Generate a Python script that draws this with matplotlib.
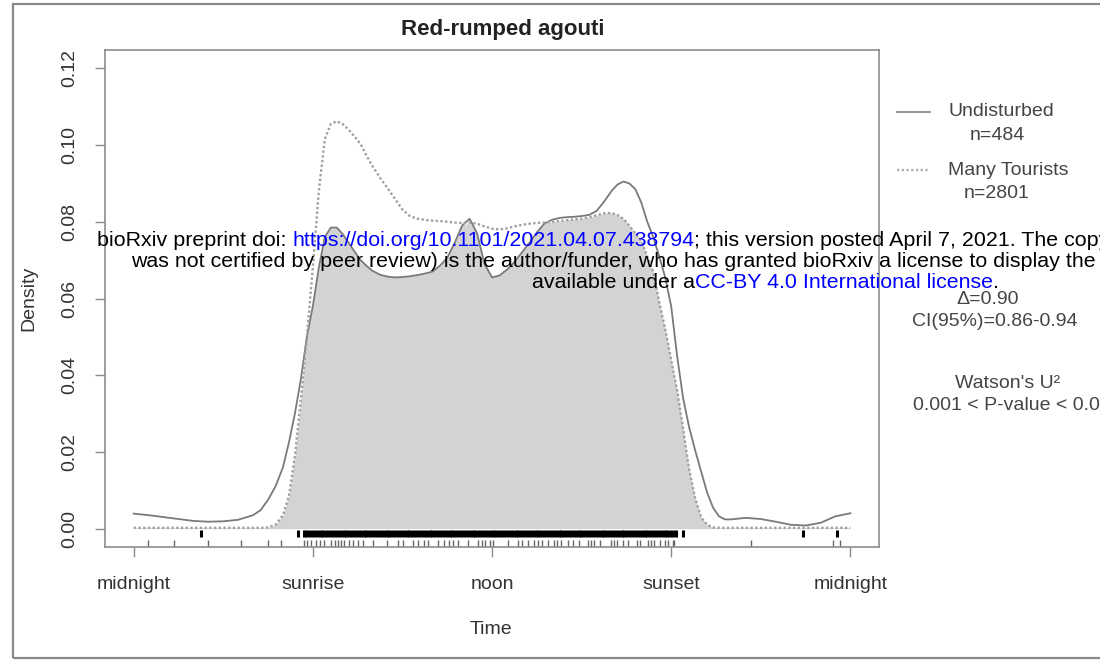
import numpy as np
import matplotlib
matplotlib.use("Agg")
import matplotlib.pyplot as plt
from matplotlib.lines import Line2D
from matplotlib.patches import Rectangle

plt.rcParams['font.family'] = ['Liberation Sans', 'DejaVu Sans']

# activity densities, time of day in hours
hours = [0, 0.5, 1, 1.5, 2, 2.5, 3, 3.5, 4, 4.25, 4.5, 4.75,
         5.0, 5.2, 5.4, 5.6, 5.8, 6.0, 6.2, 6.4, 6.6, 6.8,
         7.0, 7.2, 7.4, 7.6, 7.8, 8.0, 8.25, 8.5, 8.75, 9.0,
         9.25, 9.5, 9.75, 10.0, 10.25, 10.5, 10.75, 11.0, 11.25, 11.5,
         11.75, 12.0, 12.25, 12.5, 12.75, 13.0, 13.25, 13.5, 13.75, 14.0,
         14.25, 14.5, 14.75, 15.0, 15.25, 15.5, 15.75, 16.0, 16.2, 16.4,
         16.6, 16.8, 17.0, 17.2, 17.4, 17.6, 17.8, 18.0, 18.2, 18.4,
         18.6, 18.8, 19.0, 19.2, 19.4, 19.6, 19.8, 20.0, 20.5, 21.0,
         21.5, 22.0, 22.5, 23.0, 23.5, 24.0]

undisturbed = [0.0039, 0.0035, 0.0030, 0.0025, 0.0020, 0.0018, 0.0019, 0.0023, 0.0035, 0.0048, 0.0075, 0.0110,
               0.0160, 0.0225, 0.0300, 0.0390, 0.0500, 0.0580, 0.0680, 0.0760, 0.0785, 0.0785,
               0.0768, 0.0745, 0.0722, 0.0700, 0.0685, 0.0672, 0.0662, 0.0657, 0.0655, 0.0656,
               0.0658, 0.0661, 0.0665, 0.0670, 0.0685, 0.0706, 0.0745, 0.0790, 0.0808, 0.0770,
               0.0690, 0.0655, 0.0660, 0.0675, 0.0695, 0.0720, 0.0745, 0.0772, 0.0795, 0.0805,
               0.0810, 0.0812, 0.0813, 0.0815, 0.0818, 0.0828, 0.0852, 0.0880, 0.0897, 0.0905,
               0.0900, 0.0885, 0.0850, 0.0800, 0.0760, 0.0710, 0.0655, 0.0580, 0.0450, 0.0340,
               0.0265, 0.0205, 0.0150, 0.0095, 0.0055, 0.0032, 0.0024, 0.0024, 0.0028, 0.0025,
               0.0018, 0.0010, 0.0008, 0.0015, 0.0032, 0.0040]

tourists = [0.0002, 0.0002, 0.0002, 0.0002, 0.0002, 0.0002, 0.0002, 0.0002, 0.0002, 0.0002, 0.0003, 0.0010,
            0.0035, 0.0085, 0.0190, 0.0340, 0.0500, 0.0680, 0.0880, 0.1015, 0.1055, 0.1062,
            0.1055, 0.1040, 0.1022, 0.1003, 0.0972, 0.0945, 0.0915, 0.0888, 0.0860, 0.0832,
            0.0815, 0.0808, 0.0805, 0.0803, 0.0802, 0.0800, 0.0798, 0.0797, 0.0798, 0.0795,
            0.0788, 0.0782, 0.0780, 0.0783, 0.0788, 0.0792, 0.0795, 0.0797, 0.0798, 0.0800,
            0.0802, 0.0804, 0.0806, 0.0808, 0.0812, 0.0817, 0.0822, 0.0823, 0.0818, 0.0808,
            0.0790, 0.0770, 0.0750, 0.0710, 0.0670, 0.0590, 0.0520, 0.0440, 0.0360, 0.0260,
            0.0155, 0.0080, 0.0030, 0.0010, 0.0003, 0.0002, 0.0002, 0.0002, 0.0002, 0.0002,
            0.0002, 0.0002, 0.0002, 0.0002, 0.0002, 0.0002]

assert len(hours) == len(undisturbed) == len(tourists)

tick_hours = [0, 6, 12, 18, 24]
tick_names = ['midnight', 'sunrise', 'noon', 'sunset', 'midnight']
y_ticks = [0.00, 0.02, 0.04, 0.06, 0.08, 0.10, 0.12]

# detection times (rug), hours
rug_tourists = [2.24, 5.49, 5.69, 5.78, 5.88, 5.97, 6.07, 6.16, 6.26, 6.35, 6.45, 6.55,
                6.64, 6.74, 6.83, 6.93, 7.03, 7.12, 7.22, 7.31, 7.41, 7.51, 7.60, 7.70,
                7.79, 7.89, 7.99, 8.08, 8.18, 8.27, 8.37, 8.47, 8.56, 8.66, 8.75, 8.85,
                8.95, 9.04, 9.14, 9.23, 9.33, 9.43, 9.52, 9.62, 9.71, 9.81, 9.91, 10.00,
                10.10, 10.19, 10.29, 10.39, 10.48, 10.58, 10.67, 10.77, 10.87, 10.96, 11.06,
                11.15, 11.25, 11.35, 11.44, 11.54, 11.63, 11.73, 11.83, 11.92, 12.02, 12.11,
                12.21, 12.31, 12.40, 12.50, 12.59, 12.69, 12.79, 12.88, 12.98, 13.07, 13.17,
                13.27, 13.36, 13.46, 13.55, 13.65, 13.75, 13.84, 13.94, 14.03, 14.13, 14.23,
                14.32, 14.42, 14.51, 14.61, 14.71, 14.80, 14.90, 14.99, 15.09, 15.19, 15.28,
                15.38, 15.47, 15.57, 15.67, 15.76, 15.86, 15.95, 16.05, 16.15, 16.24, 16.34,
                16.43, 16.53, 16.63, 16.72, 16.82, 16.91, 17.01, 17.11, 17.20, 17.30, 17.39,
                17.49, 17.59, 17.68, 17.78, 17.87, 17.97, 18.07, 18.17, 18.41, 22.40, 23.57]

rug_undisturbed = [0.47, 1.34, 2.48, 3.58, 4.49, 4.92, 5.69, 5.79, 5.93, 6.09, 6.23, 6.36,
                   6.60, 6.73, 6.83, 6.93, 7.06, 7.20, 7.33, 7.50, 7.67, 8.03, 8.50, 8.84,
                   9.01, 9.34, 9.51, 9.71, 9.84, 10.18, 10.38, 10.55, 10.71, 10.85, 11.18,
                   11.52, 11.68, 11.78, 11.92, 12.05, 12.52, 12.86, 13.02, 13.19, 13.39, 13.53,
                   13.69, 13.86, 14.06, 14.19, 14.30, 14.56, 14.70, 14.90, 15.20, 15.30, 15.40,
                   15.63, 15.97, 16.10, 16.20, 16.40, 16.57, 16.87, 16.97, 17.21, 17.31, 17.41,
                   17.64, 17.78, 17.88, 18.05, 18.08, 20.66, 23.43, 23.67]

fig = plt.figure(figsize=(11, 6.61), dpi=100)
W, H = 1100, 661

# outer frame of the page
fig.add_artist(Rectangle((13 / W, 3 / H), 1.2, 1 - 7 / H, transform=fig.transFigure,
                         fill=False, edgecolor='#8a8a8a', lw=1.6))

ax = fig.add_axes([105 / W, 1 - 547 / H, (879 - 105) / W, (547 - 50) / H])
overlap = np.minimum(undisturbed, tourists)
ax.fill_between(hours, 0, overlap, color='#d3d3d3', lw=0)
ax.plot(hours, undisturbed, color='#7a7a7a', lw=1.3)
ax.plot(hours, tourists, color='#a0a0a0', lw=1.7, ls=(0, (1, 1)))
ax.vlines(rug_tourists, -0.0021, -0.0003, color='black', lw=2.2)
ax.vlines(rug_undisturbed, -0.0047, -0.0029, color='#666666', lw=1.0)

ax.set_xlim(-0.96, 24.96)
ax.set_ylim(-0.0048, 0.1248)
ax.set_xticks(tick_hours)
ax.set_xticklabels(tick_names)
ax.set_yticks(y_ticks)
ax.set_yticklabels(['%.2f' % v for v in y_ticks], rotation=90, va='center')
for s in ax.spines.values():
    s.set_color('#8c8c8c')
    s.set_linewidth(1.2)
ax.tick_params(direction='out', length=7, width=1, color='#8c8c8c',
               labelsize=14, labelcolor='#333333')
ax.tick_params(axis='x', pad=14)
ax.tick_params(axis='y', pad=12)

fig.text(503 / W, 1 - 30 / H, 'Red-rumped agouti', fontsize=16, fontweight='bold',
         ha='center', va='center', color='#222222')
fig.text(491 / W, 1 - 629 / H, 'Time', fontsize=14, ha='center', va='center', color='#333333')
fig.text(29 / W, 1 - 298 / H, 'Density', fontsize=14, rotation=90,
         ha='center', va='center', color='#333333')

# legend and statistics outside the plot
fig.add_artist(Line2D([897 / W, 930 / W], [1 - 112 / H] * 2, color='#8a8a8a', lw=1.3))
fig.add_artist(Line2D([897 / W, 930 / W], [1 - 170 / H] * 2, color='#b0b0b0', lw=1.7,
                      ls=(0, (1, 1))))
leg = dict(fontsize=14, va='center', color='#444444')
fig.text(948 / W, 1 - 112 / H, 'Undisturbed', ha='left', **leg)
fig.text(997 / W, 1 - 135 / H, 'n=484', ha='center', **leg)
fig.text(948 / W, 1 - 170 / H, 'Many Tourists', ha='left', **leg)
fig.text(997 / W, 1 - 193 / H, 'n=2801', ha='center', **leg)
fig.text(988 / W, 1 - 300 / H, '\u0394=0.90', ha='center', **leg)
fig.text(995 / W, 1 - 322 / H, 'CI(95%)=0.86-0.94', ha='center', **leg)
fig.text(1008 / W, 1 - 383 / H, "Watson's U\u00b2", ha='center', **leg)
fig.text(913 / W, 1 - 405 / H, '0.001 < P-value < 0.01', ha='left', **leg)

# bioRxiv stamp
renderer = fig.canvas.get_renderer()


def stamp(x_px, y_px, parts):
    x = x_px / W
    for txt, col in parts:
        t = fig.text(x, 1 - y_px / H, txt, fontsize=15.4, color=col, ha='left', va='center')
        x += t.get_window_extent(renderer).width / W


blue = '#0000ff'
stamp(97, 240, [('bioRxiv preprint doi: ', 'black'),
                ('https://doi.org/10.1101/2021.04.07.438794', blue),
                ('; this version posted April 7, 2021. The copyright holder for this preprint (which', 'black')])
stamp(131, 261, [('was not certified by peer review) is the author/funder, who has granted bioRxiv a license to display the preprint in perpetuity. It is made', 'black')])
stamp(532, 283, [('available under a', 'black'),
                 ('CC-BY 4.0 International license', blue),
                 ('.', 'black')])

fig.savefig('out.png', dpi=100)
